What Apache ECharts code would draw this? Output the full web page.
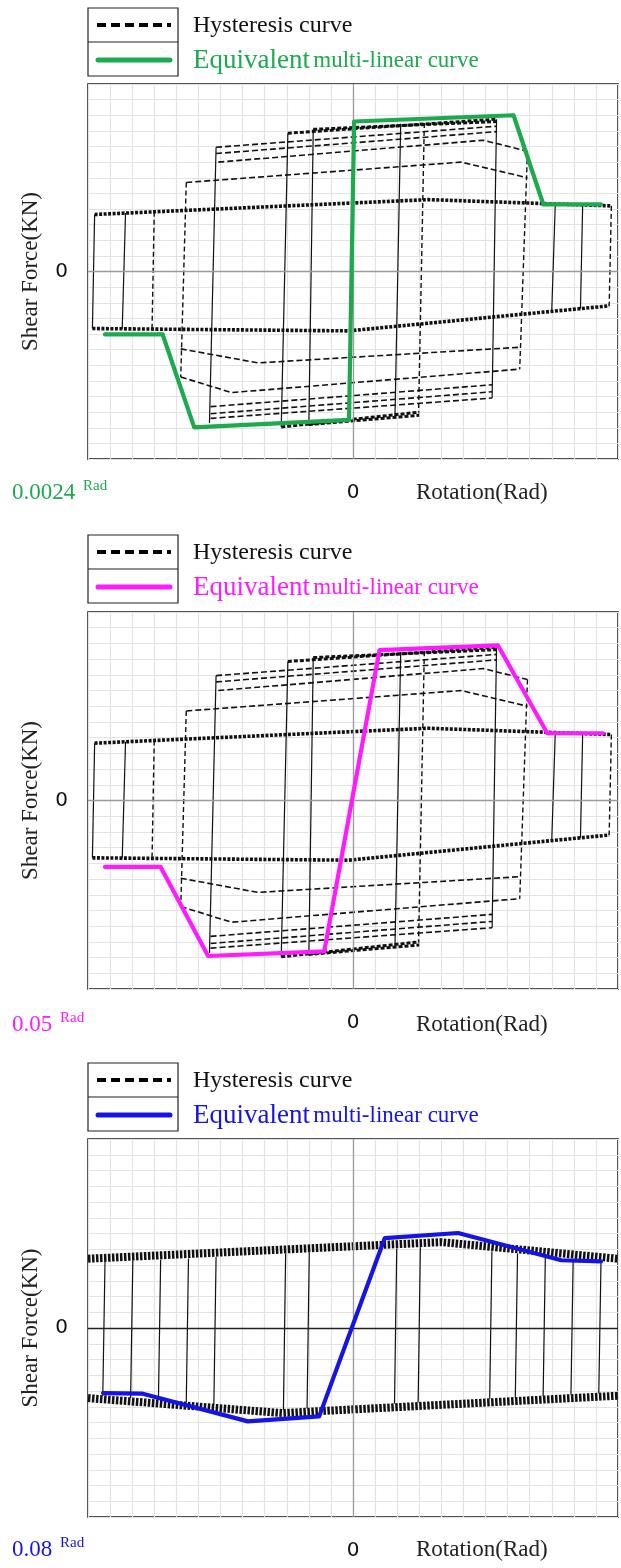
<!DOCTYPE html>
<html>
<head>
<meta charset="utf-8">
<script src="https://cdn.jsdelivr.net/npm/echarts@6/dist/echarts.min.js"></script>
<style>
html, body { margin: 0; padding: 0; background: #fff; }
#chart { width: 621px; height: 1568px; }
</style>
</head>
<body>
<div id="chart"></div>
<script>
// rotation and shear force are read in grid cells: -12..12 on both axes, 0 in the middle
var legendNames = ['Hysteresis curve', 'Equivalent', 'multi-linear curve'];
var rotationNotes = ['0.0024', '0.05', '0.08'];
var curveColors = ['#1daa4e', '#ff1aff', '#1414e6'];

// hysteresis of panels 1 and 2 (same test)
var hystTopEnvelope = [[-11.7, 3.65], [3.4, 4.6], [11.7, 4.2]];
var hystBottomEnvelope = [[-11.8, -3.65], [-0.2, -3.8], [11.6, -2.2]];
var hystTopLoops = [
  [[-7.55, 5.7], [4.9, 7.0], [7.9, 6.0]],
  [[-6.1, 7.0], [5.9, 8.4], [7.9, 7.7]],
  [[-6.2, 7.55], [6.5, 8.95]],
  [[-6.2, 7.95], [6.5, 9.3]]
];
var hystTopCluster = [
  [[-2.95, 8.85], [6.5, 9.75]],
  [[-1.8, 9.1], [6.5, 9.6]]
];
var hystBottomLoops = [
  [[-7.8, -4.95], [-4.3, -5.85], [7.55, -4.85]],
  [[-7.8, -6.75], [-5.5, -7.75], [7.55, -6.25]],
  [[-6.45, -8.65], [6.3, -7.25]],
  [[-6.45, -9.1], [6.3, -7.7]],
  [[-6.45, -9.4], [6.3, -8.1]]
];
var hystBottomCluster = [
  [[-3.25, -9.95], [3.0, -9.0]],
  [[-2.0, -9.8], [3.0, -9.2]]
];
var hystSolidReversals = [
  [[-11.7, 3.65], [-11.8, -3.65]],
  [[-10.3, 3.74], [-10.45, -3.67]],
  [[-6.2, 7.95], [-6.5, -9.7]],
  [[-2.95, 8.85], [-3.25, -9.95]],
  [[-1.8, 9.1], [-2.0, -9.85]],
  [[2.16, 9.45], [1.9, -9.35]],
  [[6.5, 9.75], [6.3, -8.1]],
  [[9.16, 4.32], [9.0, -2.55]],
  [[10.4, 4.26], [10.3, -2.38]]
];
var hystDashedReversals = [
  [[-9.0, 3.82], [-9.1, -3.66]],
  [[-7.55, 5.7], [-7.8, -6.75]],
  [[3.23, 9.5], [2.97, -9.0]],
  [[7.9, 7.7], [7.55, -6.25]],
  [[11.7, 4.2], [11.6, -2.2]]
];

// hysteresis of panel 3
var cyclicTopBand = [[-12, 4.4], [4.0, 5.45], [12, 4.4]];
var cyclicBottomBand = [[-12, -4.45], [-3.2, -5.4], [12, -4.3]];
var cyclicReversals = [
  [[-11.23, 4.2], [-11.33, -4.3]],
  [[-9.97, 4.27], [-10.07, -4.44]],
  [[-8.71, 4.35], [-8.81, -4.57]],
  [[-7.45, 4.42], [-7.55, -4.71]],
  [[-6.2, 4.5], [-6.3, -4.84]],
  [[-3.05, 4.72], [-3.15, -5.18]],
  [[-1.98, 4.8], [-2.08, -5.1]],
  [[1.98, 5.05], [1.88, -4.81]],
  [[3.05, 5.12], [2.95, -4.73]],
  [[6.29, 4.88], [6.19, -4.5]],
  [[7.45, 4.73], [7.35, -4.42]],
  [[8.71, 4.57], [8.61, -4.33]],
  [[9.97, 4.4], [9.87, -4.24]],
  [[11.23, 4.24], [11.13, -4.15]]
];

// equivalent multi-linear curves
var multiLinearA = [[-11.23, -4.03], [-8.62, -4.03], [-7.19, -9.98], [-0.18, -9.5], [0.05, 9.6], [7.27, 10.0], [8.62, 4.29], [11.23, 4.29]];
var multiLinearB = [[-11.23, -4.23], [-8.71, -4.23], [-6.56, -9.9], [-1.3, -9.6], [1.2, 9.57], [6.56, 9.88], [8.8, 4.28], [11.32, 4.28]];
var multiLinearC = [[-11.32, -4.13], [-9.52, -4.17], [-4.76, -5.93], [-1.53, -5.61], [1.44, 5.71], [4.76, 6.03], [9.43, 4.3], [11.23, 4.23]];
var multiLinear = [multiLinearA, multiLinearB, multiLinearC];

var gridTops = [84, 612, 1139];
var gridHeights = [375, 377, 378];
var legendTops = [8, 535, 1063];
var noteY = [493, 1025, 1550];
var serif = 'Liberation Serif';

var chart = echarts.init(document.getElementById('chart'), null, { renderer: 'canvas' });

var grids = [], xAxes = [], yAxes = [], series = [], graphics = [];

function addLine(gi, pts, style, z) {
  series.push({
    type: 'line', xAxisIndex: gi, yAxisIndex: gi, data: pts,
    symbol: 'none', silent: true, animation: false, z: z || 2,
    lineStyle: style
  });
}

for (var gi = 0; gi < 3; gi++) {
  grids.push({
    left: 88, width: 530, top: gridTops[gi], height: gridHeights[gi],
    show: true, borderColor: '#1a1a1a', borderWidth: 1.6, backgroundColor: '#fff'
  });
  xAxes.push({
    gridIndex: gi, type: 'value', min: -12, max: 12, interval: 1,
    axisLine: { show: false }, axisTick: { show: false },
    splitLine: { lineStyle: { color: '#e3e3e3', width: 1.2 } },
    axisLabel: {
      margin: 24, fontFamily: 'DejaVu Sans', fontSize: 20, color: '#111',
      formatter: function (v) { return v === 0 ? '0' : ''; }
    }
  });
  yAxes.push({
    gridIndex: gi, type: 'value', min: -12, max: 12, interval: 1,
    name: 'Shear Force(KN)', nameLocation: 'middle', nameGap: 46, nameRotate: 90,
    nameTextStyle: { fontFamily: serif, fontSize: 23, color: '#222' },
    axisLine: { show: false }, axisTick: { show: false },
    splitLine: { lineStyle: { color: '#e3e3e3', width: 1.2 } },
    axisLabel: {
      margin: 20, fontFamily: 'DejaVu Sans', fontSize: 20, color: '#111',
      formatter: function (v) { return v === 0 ? '0' : ''; }
    }
  });

  // zero lines
  series.push({
    type: 'line', xAxisIndex: gi, yAxisIndex: gi, data: [], silent: true, animation: false,
    markLine: {
      silent: true, symbol: 'none', label: { show: false }, animation: false,
      data: [
        { xAxis: 0, lineStyle: { color: '#9a9a9a', width: 1.3, type: 'solid' } },
        { yAxis: 0, lineStyle: { color: gi === 2 ? '#222' : '#9a9a9a', width: 1.3, type: 'solid' } }
      ]
    }
  });

  if (gi < 2) {
    hystSolidReversals.forEach(function (p) { addLine(gi, p, { color: '#111', width: 1.2 }); });
    hystDashedReversals.forEach(function (p) { addLine(gi, p, { color: '#111', width: 1.4, type: [5, 3] }); });
    hystTopLoops.concat(hystBottomLoops).forEach(function (p) {
      addLine(gi, p, { color: '#111', width: 1.6, type: [6, 3] });
    });
    hystTopCluster.concat(hystBottomCluster).forEach(function (p) {
      addLine(gi, p, { color: '#111', width: 3, type: [4, 2] });
    });
    [hystTopEnvelope, hystBottomEnvelope].forEach(function (p) {
      addLine(gi, p, { color: '#111', width: 3.6, type: [3, 1.5] });
    });
  } else {
    cyclicReversals.forEach(function (p) { addLine(gi, p, { color: '#111', width: 1.2 }); });
    [cyclicTopBand, cyclicBottomBand].forEach(function (p) {
      addLine(gi, p, { color: '#111', width: 8, type: [2.5, 1.5] });
    });
  }
  addLine(gi, multiLinear[gi], { color: curveColors[gi], width: 4.2, cap: 'round', join: 'round' }, 5);

  // legend box
  var lt = legendTops[gi];
  graphics.push(
    { type: 'rect', shape: { x: 88, y: lt, width: 90, height: 68 }, style: { fill: '#fff', stroke: '#222', lineWidth: 1.2 }, z: 10 },
    { type: 'line', shape: { x1: 88, y1: lt + 34, x2: 178, y2: lt + 34 }, style: { stroke: '#222', lineWidth: 1.2 }, z: 10 },
    { type: 'line', shape: { x1: 97, y1: lt + 17, x2: 171, y2: lt + 17 }, style: { stroke: '#000', lineWidth: 3.8, lineDash: [9, 5] }, z: 11 },
    { type: 'line', shape: { x1: 98, y1: lt + 52, x2: 170, y2: lt + 52 }, style: { stroke: curveColors[gi], lineWidth: 5, lineCap: 'round' }, z: 11 },
    { type: 'text', x: 193, y: lt + 18, z: 11,
      style: { text: legendNames[0], fontFamily: serif, fontSize: 24, fill: '#111', verticalAlign: 'middle', textVerticalAlign: 'middle' } },
    { type: 'text', x: 193, y: lt + 53, z: 11,
      style: {
        text: '{a|' + legendNames[1] + '} {b|' + legendNames[2] + '}',
        fill: curveColors[gi], verticalAlign: 'middle', textVerticalAlign: 'middle',
        rich: {
          a: { fontFamily: serif, fontSize: 27, fill: curveColors[gi], color: curveColors[gi] },
          b: { fontFamily: serif, fontSize: 23, fill: curveColors[gi], color: curveColors[gi] }
        }
      } },
    // note under the plot
    { type: 'text', x: 12, y: noteY[gi], z: 11,
      style: { text: rotationNotes[gi], fontFamily: serif, fontSize: 23, fill: curveColors[gi], verticalAlign: 'middle', textVerticalAlign: 'middle' } },
    { type: 'text', x: 12 + rotationNotes[gi].length * 11.5 + 2, y: noteY[gi] - 7, z: 11,
      style: { text: 'Rad', fontFamily: serif, fontSize: 15, fill: curveColors[gi], verticalAlign: 'middle', textVerticalAlign: 'middle' } },
    { type: 'text', x: 416, y: noteY[gi], z: 11,
      style: { text: 'Rotation(Rad)', fontFamily: serif, fontSize: 23, fill: '#222', verticalAlign: 'middle', textVerticalAlign: 'middle' } }
  );
}

chart.setOption({
  animation: false,
  backgroundColor: '#fff',
  grid: grids,
  xAxis: xAxes,
  yAxis: yAxes,
  series: series,
  graphic: graphics
});
window.addEventListener('resize', chart.resize);
</script>
</body>
</html>
